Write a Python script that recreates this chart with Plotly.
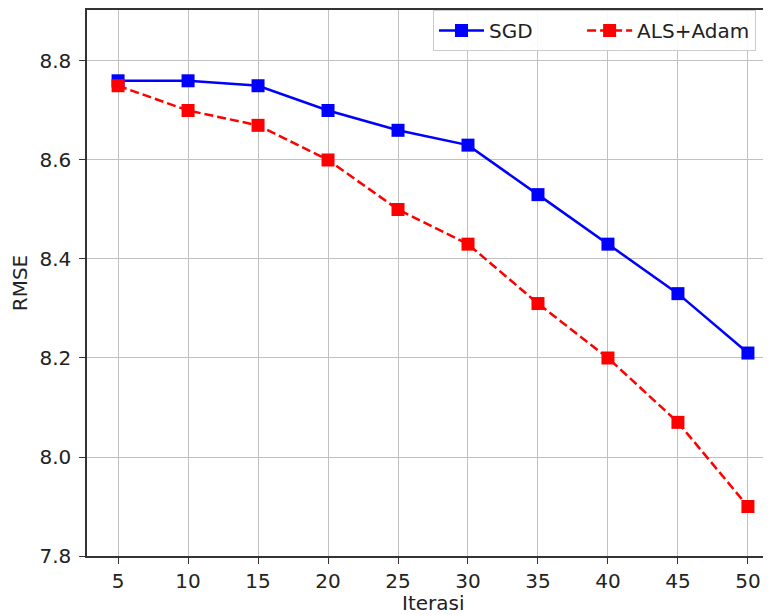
import plotly.graph_objects as go

iterations = [5, 10, 15, 20, 25, 30, 35, 40, 45, 50]
sgd_rmse = [8.76, 8.76, 8.75, 8.70, 8.66, 8.63, 8.53, 8.43, 8.33, 8.21]
als_adam_rmse = [8.75, 8.70, 8.67, 8.60, 8.50, 8.43, 8.31, 8.20, 8.07, 7.90]
x_ticks = [5, 10, 15, 20, 25, 30, 35, 40, 45, 50]
y_ticks = [7.8, 8.0, 8.2, 8.4, 8.6, 8.8]
series_names = ["SGD", "ALS+Adam"]

font = "DejaVu Sans, Liberation Sans, sans-serif"
pad = "\u00a0" * 7

fig = go.Figure()
fig.add_trace(go.Scatter(
    x=iterations, y=sgd_rmse, name=series_names[0] + pad, mode="lines+markers",
    line=dict(color="#0000ff", width=2.5),
    marker=dict(symbol="square", size=13, color="#0000ff"),
))
fig.add_trace(go.Scatter(
    x=iterations, y=als_adam_rmse, name=series_names[1], mode="lines+markers",
    line=dict(color="#ff0000", width=2.5, dash="9px,4px"),
    marker=dict(symbol="square", size=13, color="#ff0000"),
))

fig.update_layout(
    width=771, height=615,
    margin=dict(l=79, r=0, t=2, b=67, autoexpand=False),
    paper_bgcolor="white", plot_bgcolor="white",
    font=dict(family=font, size=20, color="#222222"),
    showlegend=True,
    legend=dict(
        orientation="h", x=0.5, xanchor="left", y=1.0, yanchor="top",
        bgcolor="rgba(255,255,255,0.9)", bordercolor="#cccccc", borderwidth=1,
        font=dict(size=20), itemwidth=45,
    ),
    annotations=[dict(
        text="Iterasi", xref="paper", yref="paper", x=0.5, y=0,
        xanchor="center", yanchor="top", yshift=-33, showarrow=False,
        font=dict(size=20),
    )],
)
fig.update_xaxes(
    range=[2.78, 52.22], tickvals=x_ticks, automargin=False,
    showgrid=True, gridcolor="#c0c0c0", gridwidth=1,
    showline=True, linecolor="#333333", linewidth=1.5, mirror=True,
    ticks="outside", ticklen=6, tickcolor="#333333",
    zeroline=False,
)
fig.update_yaxes(
    range=[7.8, 8.903], tickvals=y_ticks, tickformat=".1f", automargin=False,
    showgrid=True, gridcolor="#c0c0c0", gridwidth=1,
    showline=True, linecolor="#333333", linewidth=1.5, mirror=True,
    ticks="outside", ticklen=6, tickcolor="#333333", ticklabelstandoff=4,
    zeroline=False,
    title=dict(text="RMSE", font=dict(size=20), standoff=16),
)

fig.write_html("out.html")
